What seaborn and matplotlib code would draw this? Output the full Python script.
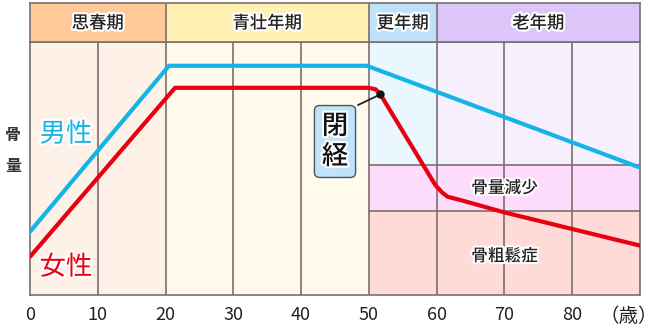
import matplotlib
matplotlib.use("Agg")
import matplotlib.pyplot as plt
import matplotlib.patheffects as pe
import numpy as np
import pandas as pd
import seaborn as sns

# ---------------- data ----------------
tick_ages = [0, 10, 20, 30, 40, 50, 60, 70, 80]
stage_names = ["思春期", "青壮年期", "更年期", "老年期"]
stage_starts = [0, 20, 50, 60]
stage_ends = [20, 50, 60, 90]
stage_head_colors = ["#FFC99A", "#FFF0B4", "#BFE2F9", "#DCC6F9"]
stage_body_colors = ["#FDF1E8", "#FFFAEB", "#EAF7FF", "#F5EFFE"]

male_age = [0, 20.5, 49.7, 90]
male_val = [25.0, 90.5, 90.5, 50.3]

female_age = [0, 21.4, 50.0, 51.0, 51.7, 59.8, 60.8, 61.6, 63.5, 70, 90]
female_val = [15.1, 81.8, 81.8, 81.2, 79.2, 43.4, 40.5, 38.8, 37.5, 32.6, 19.5]

zone_names = ["骨量減少", "骨粗鬆症"]
zone_low = [33.2, 0]
zone_high = [51.3, 33.2]
zone_label_y = [42.3, 15.4]
zone_colors = ["#FEDCFB", "#FEDBD7"]
zone_start, zone_end = 50, 90

menopause_age = 51.7
menopause_val = 79.2

# ---------------- style ----------------
sns.set_theme(style="white")
plt.rcParams['font.family'] = ['Noto Sans CJK JP', 'DejaVu Sans']

grid_c = "#7A6E6E"
blue_c = "#14B4E6"
red_c = "#E60012"
stroke = [pe.withStroke(linewidth=3, foreground="white")]

fig = plt.figure(figsize=(6.6, 3.28), dpi=100)
L, W = 30 / 660, 610 / 660
ax = fig.add_axes([L, 33 / 328, W, 253.3 / 328])
hax = fig.add_axes([L, 286.3 / 328, W, 38.4 / 328])

for a in (ax, hax):
    a.set_xlim(0, 90)
    for s in a.spines.values():
        s.set_color(grid_c)
        s.set_linewidth(1.2)
ax.set_ylim(0, 100)
hax.set_ylim(0, 1)

# background columns
for s0, s1, hc, bc in zip(stage_starts, stage_ends, stage_head_colors, stage_body_colors):
    ax.axvspan(s0, s1, color=bc, lw=0, zorder=0)
    hax.axvspan(s0, s1, color=hc, lw=0, zorder=0)

# zones
for lo, hi, c in zip(zone_low, zone_high, zone_colors):
    ax.fill_between([zone_start, zone_end], lo, hi, color=c, lw=0, zorder=0.5)
for hi in zone_high:
    ax.plot([zone_start, zone_end], [hi, hi], color=grid_c, lw=1.2, zorder=1)

# vertical grid
for t in tick_ages[1:]:
    ax.axvline(t, color=grid_c, lw=1.2, zorder=1)
for s in stage_starts[1:]:
    hax.axvline(s, color=grid_c, lw=1.2, zorder=1)

# header texts
for name, s0, s1 in zip(stage_names, stage_starts, stage_ends):
    hax.text((s0 + s1) / 2, 0.48, name, ha="center", va="center", fontsize=12.5,
             fontweight="medium", color="#222222", path_effects=stroke)
hax.set_xticks([])
hax.set_yticks([])

# lines
df_m = pd.DataFrame({"age": male_age, "val": male_val})
df_f = pd.DataFrame({"age": female_age, "val": female_val})
sns.lineplot(data=df_m, x="age", y="val", ax=ax, color=blue_c, lw=3.0,
             sort=False, estimator=None, zorder=3, solid_joinstyle="round")
sns.lineplot(data=df_f, x="age", y="val", ax=ax, color=red_c, lw=3.0,
             sort=False, estimator=None, zorder=3, solid_joinstyle="round")

# menopause marker & box
ax.plot([48.4, menopause_age], [75.0, menopause_val], color="#222222", lw=1.3, zorder=4)
ax.plot([menopause_age], [menopause_val], "o", color="#111111", ms=5, zorder=5)
ax.text(45.0, 60.6, "閉\n経", ha="center", va="center", fontsize=19, color="#111111",
        fontweight="medium", linespacing=1.15, path_effects=stroke, zorder=6,
        bbox=dict(boxstyle="round,pad=0.28,rounding_size=0.2", fc="#BEE3FA",
                  ec="#4A5563", lw=1.0))

# zone labels
for name, y in zip(zone_names, zone_label_y):
    ax.text(70, y, name, ha="center", va="center",
            fontsize=12, fontweight="medium", color="#222222", path_effects=stroke, zorder=6)

# series labels
ax.text(5.3, 63.5, "男性", ha="center", va="center", fontsize=19, color=blue_c,
        path_effects=stroke, zorder=6)
ax.text(5.3, 11.0, "女性", ha="center", va="center", fontsize=19, color=red_c,
        path_effects=stroke, zorder=6)

# y label
fig.text(13 / 660, 1 - 135 / 328, "骨", ha="center", va="center", fontsize=11.5,
         fontweight="bold", color="#333333")
fig.text(13 / 660, 1 - 166 / 328, "量", ha="center", va="center", fontsize=11.5,
         fontweight="bold", color="#333333")

# x ticks
ax.set_xticks(tick_ages)
ax.set_xticklabels([str(t) for t in tick_ages], fontsize=13, color="#222222")
ax.tick_params(axis="x", length=0, pad=8)
ax.set_yticks([])
ax.set_xlabel("")
ax.set_ylabel("")
fig.text(658 / 660, 1 - 317 / 328, "（歳）", ha="right", va="center", fontsize=14,
         color="#222222")

fig.savefig("out.png", dpi=100)
